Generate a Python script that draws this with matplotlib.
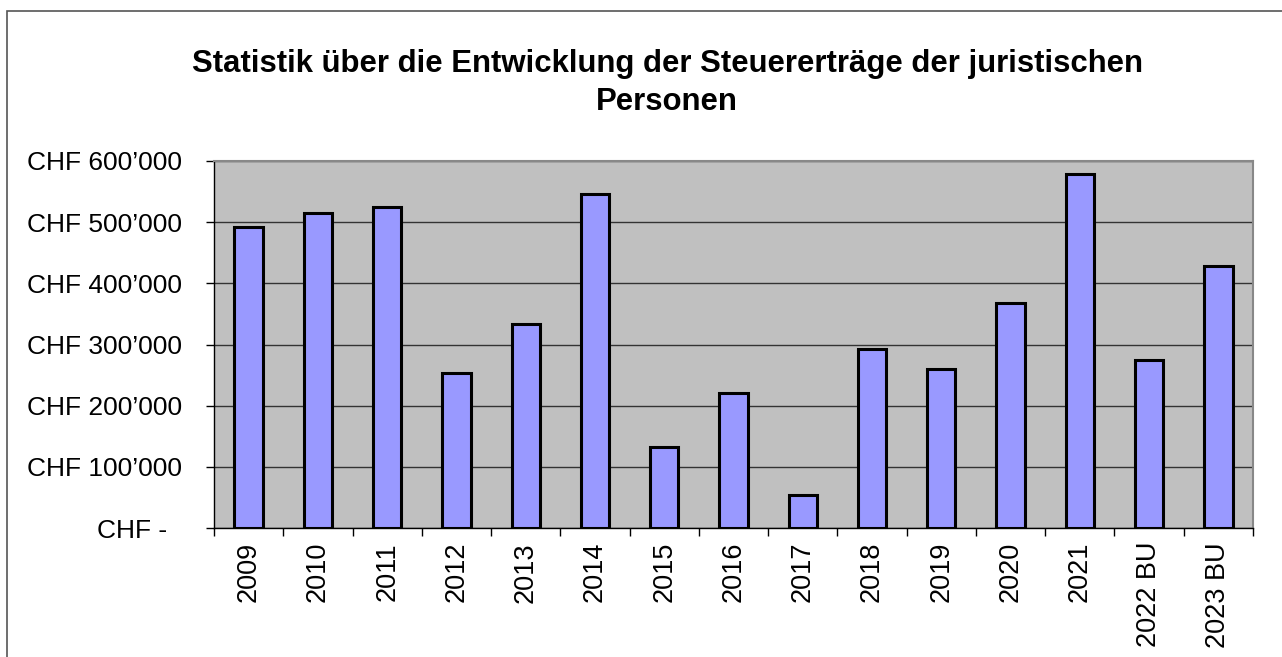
import numpy as np
import matplotlib.pyplot as plt
from matplotlib.patches import Rectangle

# --- data ---
years = ["2009", "2010", "2011", "2012", "2013", "2014", "2015", "2016",
         "2017", "2018", "2019", "2020", "2021", "2022 BU", "2023 BU"]
ertraege = [492000, 515000, 525000, 253000, 333000, 546000, 132000, 220000,
            54000, 293000, 260000, 368000, 579000, 274000, 429000]
y_ticks = [0, 100000, 200000, 300000, 400000, 500000, 600000]
y_labels = ["CHF -  ", "CHF 100’000", "CHF 200’000", "CHF 300’000",
            "CHF 400’000", "CHF 500’000", "CHF 600’000"]
title = "Statistik über die Entwicklung der Steuererträge der juristischen\nPersonen"

plt.rcParams['font.family'] = ['Liberation Sans', 'DejaVu Sans']

W, H = 1282, 657
fig = plt.figure(figsize=(W / 100, H / 100), dpi=100)
fig.patch.set_facecolor("white")

# outer chart frame (only left/top edges visible in the picture)
fig.patches.append(Rectangle((7 / W, -0.1), 1.2, 1 - 11 / H + 0.1,
                             transform=fig.transFigure, fill=False,
                             edgecolor="#555555", linewidth=1.2))

left, right, top, bottom = 214, 1253, 161, 528
ax = fig.add_axes([left / W, 1 - bottom / H, (right - left) / W, (bottom - top) / H])
ax.set_facecolor("#C0C0C0")

x = np.arange(len(years))
ax.bar(x, ertraege, width=0.41, color="#9999FF", edgecolor="black",
       linewidth=2.2, zorder=3)

ax.set_xlim(-0.5, len(years) - 0.5)
ax.set_ylim(0, 600000)
ax.set_yticks(y_ticks)
ax.set_yticklabels(y_labels, fontsize=19)
ax.yaxis.grid(True, color="#333333", linewidth=1.0, zorder=1)

# category ticks sit between the bars, labels at bar centres
ax.set_xticks(np.arange(len(years) + 1) - 0.5)
ax.set_xticklabels([])
ax.set_xticks(x, minor=True)
ax.set_xticklabels(years, minor=True, rotation=90, fontsize=19.5)
ax.tick_params(axis="x", which="major", length=6, width=1, color="black")
ax.tick_params(axis="x", which="minor", length=0, pad=10)
ax.tick_params(axis="y", length=6, width=1, pad=17, color="black")

for side in ["top", "right"]:
    ax.spines[side].set_color("#888888")
    ax.spines[side].set_linewidth(1.5)
for side in ["left", "bottom"]:
    ax.spines[side].set_color("black")
    ax.spines[side].set_linewidth(1.0)

fig.text(667 / W, 1 - 83 / H, title, ha="center", va="center",
         fontsize=22.4, fontweight="bold", linespacing=1.33)

fig.savefig("out.png", dpi=100)
